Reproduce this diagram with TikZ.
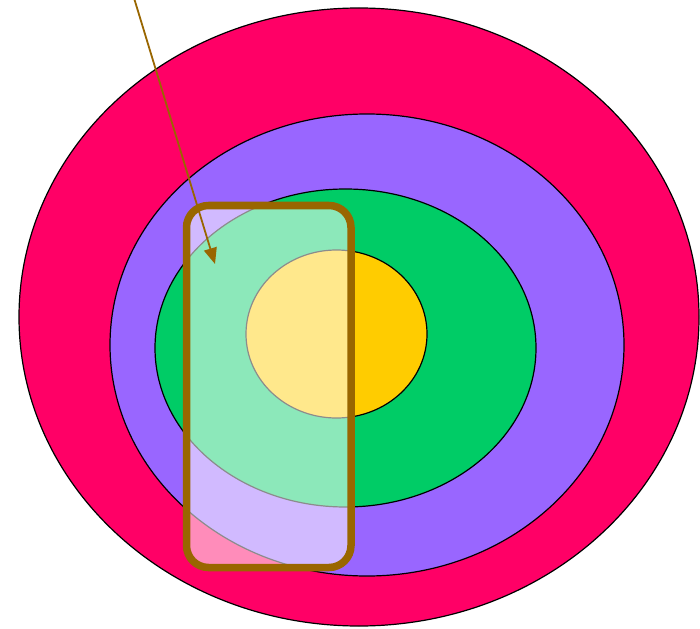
\documentclass[tikz,border=0pt]{standalone}
\usetikzlibrary{shapes.geometric,arrows.meta}
\definecolor{ringA}{HTML}{FF0066}
\definecolor{ringB}{HTML}{9966FF}
\definecolor{ringC}{HTML}{00CC66}
\definecolor{ringD}{HTML}{FFCC00}
\definecolor{framecol}{HTML}{996600}
\begin{document}
\begin{tikzpicture}[x=1pt,y=-1pt,
  ring/.style={ellipse, draw=black, line width=1.2pt, inner sep=0pt, outer sep=0pt},
  lens/.style={rectangle, draw=framecol, line width=7.5pt, rounded corners=22pt, fill=white, fill opacity=0.55, draw opacity=1, inner sep=0pt, outer sep=0pt},
  pointer/.style={draw=framecol, line width=1.8pt, -{Triangle[length=16pt,width=13pt]}}]
\useasboundingbox (0,0) rectangle (700,628);
\node[ring, fill=ringA, minimum width=680pt, minimum height=618pt] (r1) at (359,317) {};
\node[ring, fill=ringB, minimum width=514pt, minimum height=462pt] (r2) at (367,345) {};
\node[ring, fill=ringC, minimum width=381pt, minimum height=318pt] (r3) at (345.5,348) {};
\node[ring, fill=ringD, minimum width=181pt, minimum height=168pt] (r4) at (336.5,334) {};
\node[lens, minimum width=164.5pt, minimum height=362pt] (box) at (268.75,386.5) {};
\coordinate (start) at (134,-2);
\coordinate (tip) at (215,264);
\draw[pointer] (start) -- (tip);
\end{tikzpicture}
\end{document}
